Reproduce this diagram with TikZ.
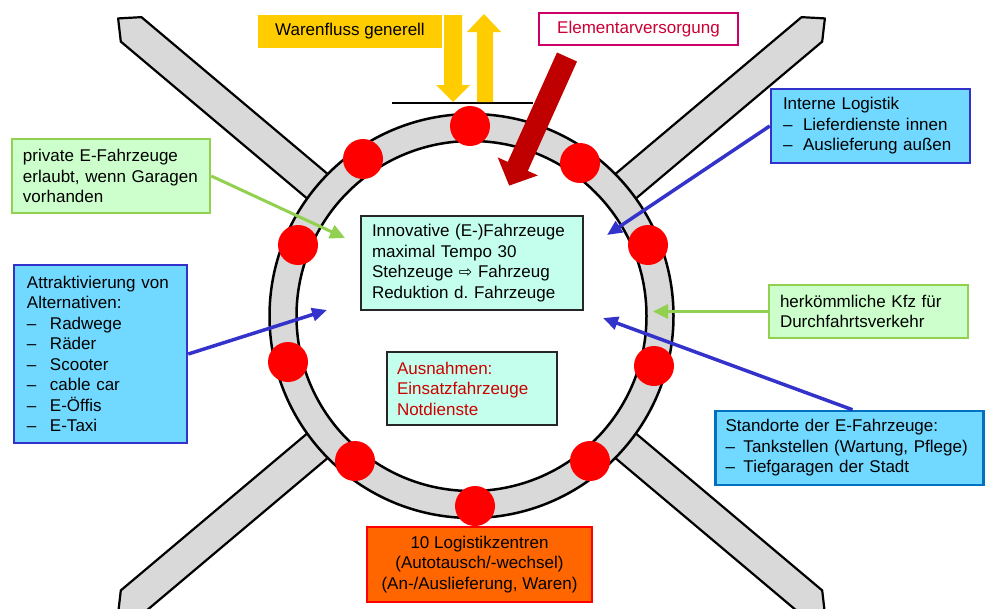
\documentclass[tikz,border=0pt]{standalone}
\usepackage{fontspec}
\setmainfont{Liberation Sans}
\newfontfamily\dejavu{DejaVu Sans}
\usetikzlibrary{arrows.meta,calc}
\frenchspacing
\definecolor{roadgray}{HTML}{D9D9D9}
\definecolor{dotred}{HTML}{FF0000}
\definecolor{warenyellow}{HTML}{FFCC00}
\definecolor{elemborder}{HTML}{CC0066}
\definecolor{elemtext}{HTML}{CC0033}
\definecolor{darkredarrow}{HTML}{C00000}
\definecolor{lgreen}{HTML}{CCFFCC}
\definecolor{mgreen}{HTML}{92D050}
\definecolor{lblue}{HTML}{71D9FF}
\definecolor{dblue}{HTML}{3333CC}
\definecolor{sblue}{HTML}{0070C0}
\definecolor{aqua}{HTML}{C4FFEE}
\definecolor{ausntext}{HTML}{CC0000}
\definecolor{orangefill}{HTML}{FF6600}
\tikzset{
  road/.style={fill=roadgray, draw=black, line width=2.2pt, line join=round},
  ring/.style={fill=roadgray, draw=black, line width=2.5pt, even odd rule},
  reddot/.style={circle, fill=dotred, minimum size=40pt, inner sep=0pt},
  tbox/.style={line width=2pt, inner ysep=0pt, align=left, anchor=center},
  cbox/.style={line width=2pt, inner sep=0pt, align=center, anchor=center},
  bluearrow/.style={draw=dblue, line width=3.5pt, -{Triangle[length=15pt,width=13pt]}},
  greenarrow/.style={draw=mgreen, line width=3pt, -{Triangle[length=15pt,width=14pt]}},
}
\newcommand{\litem}[2]{\makebox[#1][l]{–}#2}
\begin{document}
\begin{tikzpicture}[x=1pt,y=-1pt, font=\fontsize{17}{20.5}\selectfont]
\useasboundingbox (0,0) rectangle (985,608);
\clip (0,0) rectangle (985,608);
\coordinate (C) at (471.5,316);

% roads
\foreach \a in {-139.9,-40.1,40.1,139.9} {
  \draw[road] ($(C)+(\a:185)+(\a+90:16)$) -- ($(C)+(\a:445)+(\a+90:16)$)
     -- ($(C)+(\a:462)$) -- ($(C)+(\a:445)+(\a-90:16)$)
     -- ($(C)+(\a:185)+(\a-90:16)$) -- cycle;
}
% ring
\path[ring] (C) circle[radius=202pt] (C) circle[radius=175pt];

% dots
\node[reddot] (d1) at (470,126) {};
\node[reddot] (d2) at (363,159) {};
\node[reddot] (d3) at (580,163) {};
\node[reddot] (d4) at (298,245) {};
\node[reddot] (d5) at (648,245) {};
\node[reddot] (d6) at (288,362) {};
\node[reddot] (d7) at (654,366) {};
\node[reddot] (d8) at (355,461) {};
\node[reddot] (d9) at (590,461) {};
\node[reddot] (d10) at (475,506) {};

% top line and yellow arrows
\draw[line width=1.8pt] (392,103) -- (533,103);
\fill[warenyellow] (444,15) -- (462,15) -- (462,85) -- (470,85) -- (453,102) -- (436,85) -- (444,85) -- cycle;
\fill[warenyellow] (477,102) -- (493,102) -- (493,32) -- (501,32) -- (484,14) -- (467,32) -- (477,32) -- cycle;

% dark red arrow
\fill[darkredarrow] (557,52.5) -- (507.8,161.9) -- (497.7,157.4) -- (509.2,185.6)
   -- (537.9,175.4) -- (527.8,170.9) -- (577,61.5) -- cycle;

% boxes
\node[cbox, fill=warenyellow, minimum width=184pt, minimum height=33pt] (waren) at (350,31.5) {Warenfluss generell};
\node[cbox, fill=white, draw=elemborder, text=elemtext, minimum width=199pt, minimum height=32pt] (elem) at (638.5,29) {Elementarversorgung};

\node[tbox, fill=lgreen, draw=mgreen, line width=2.5pt, text width=176pt, inner xsep=11pt, minimum height=74pt] (private) at (111,176)
  {private E-Fahrzeuge\\erlaubt, wenn Garagen\\vorhanden};

\node[tbox, fill=lblue, draw=dblue, line width=2.5pt, text width=147pt, inner xsep=13pt, minimum height=178pt] (attrakt) at (100.5,354)
  {Attraktivierung von\\Alternativen:\\\litem{23pt}{Radwege}\\\litem{23pt}{Räder}\\\litem{23pt}{Scooter}\\\litem{23pt}{cable car}\\\litem{23pt}{E-Öffis}\\\litem{23pt}{E-Taxi}};

\node[tbox, fill=lblue, draw=dblue, line width=2.5pt, text width=175pt, inner xsep=12pt, minimum height=74pt] (interne) at (870.5,126)
  {Interne Logistik\\\litem{20pt}{Lieferdienste innen}\\\litem{20pt}{Auslieferung außen}};

\node[tbox, fill=lgreen, draw=mgreen, line width=2.5pt, text width=177pt, inner xsep=11pt, minimum height=53pt] (herk) at (868.5,311.5)
  {herkömmliche Kfz für\\Durchfahrtsverkehr};

\node[tbox, fill=lblue, draw=sblue, line width=2.5pt, text width=248pt, inner xsep=10pt, minimum height=74pt] (stand) at (849.5,448)
  {Standorte der E-Fahrzeuge:\\\litem{18pt}{Tankstellen (Wartung, Pflege)}\\\litem{18pt}{Tiefgaragen der Stadt}};

\node[tbox, fill=aqua, draw=black!85, text width=200pt, inner xsep=11pt, minimum height=94pt] (innov) at (472,263)
  {Innovative (E-)Fahrzeuge\\maximal Tempo 30\\Stehzeuge {\dejavu\fontsize{16}{20.5}\selectfont ⇨} Fahrzeug\\Reduktion d. Fahrzeuge};

\node[tbox, fill=aqua, draw=black!85, text=ausntext, text width=150pt, inner xsep=10pt, minimum height=73pt] (ausn) at (472,388.5)
  {Ausnahmen:\\Einsatzfahrzeuge\\Notdienste};

\node[cbox, fill=orangefill, draw=dotred, minimum width=225pt, minimum height=75pt] (logist) at (479.5,564.5)
  {10 Logistikzentren\\(Autotausch/-wechsel)\\(An-/Auslieferung, Waren)};

% connectors
\coordinate (g1) at (345,238);
\coordinate (b1) at (327,310);
\coordinate (b2) at (607,235);
\coordinate (g2) at (653,311.5);
\coordinate (b3) at (603,318);
\draw[greenarrow] (private.east) -- (g1);
\draw[bluearrow] (attrakt.east) -- (b1);
\draw[bluearrow] (interne.west) -- (b2);
\draw[greenarrow] (herk.west) -- (g2);
\draw[bluearrow] ([xshift=3pt]stand.north) -- (b3);
\end{tikzpicture}
\end{document}
